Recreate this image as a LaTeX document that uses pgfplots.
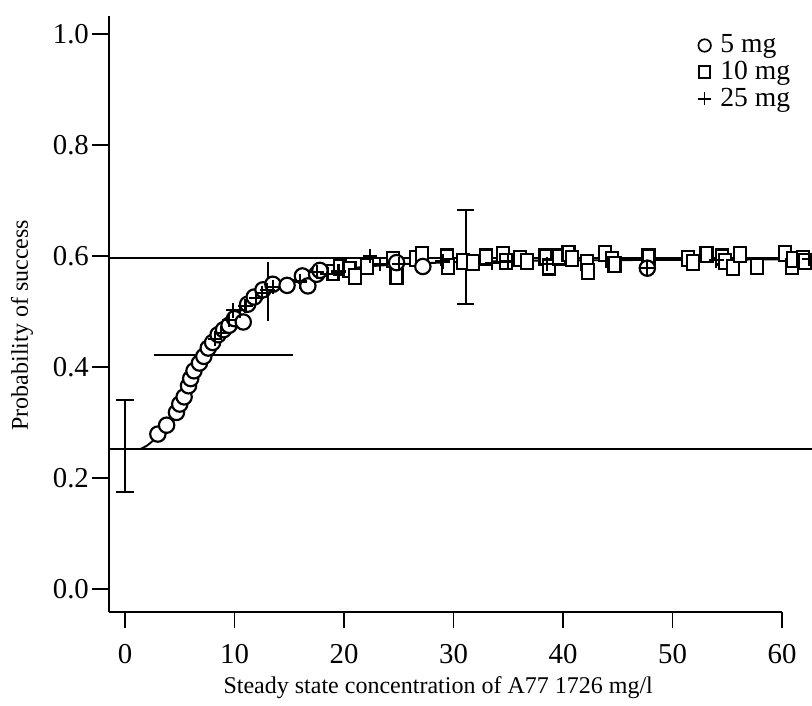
\documentclass[border=0pt]{standalone}
\usepackage{pgfplots}
\pgfplotsset{compat=1.18}
\usepackage{fontspec}
\setmainfont{Liberation Serif}
\begin{document}
\begin{tikzpicture}
\begin{axis}[
  scale only axis, width=280.4pt, height=248.3pt,
  xmin=-1.46, xmax=60, ymin=-0.041, ymax=1.033,
  axis x line*=bottom, axis y line*=left,
  every outer x axis line/.append style={-},
  every outer y axis line/.append style={-},
  axis line style={line width=0.8pt, black},
  clip=false,
  xtick={0,10,20,30,40,50,60},
  ytick={0,0.2,0.4,0.6,0.8,1.0},
  yticklabel style={/pgf/number format/fixed, /pgf/number format/fixed zerofill, /pgf/number format/precision=1, inner sep=1.2pt},
  xticklabel style={yshift=-3pt},
  /pgf/number format/assume math mode=true,
  tick align=outside, major tick length=7pt,
  tick style={line width=0.8pt, black},
  ticklabel style={font=\fontsize{12}{14}\selectfont},
  xlabel={Steady state concentration of A77 1726 mg/l},
  ylabel={Probability of success},
  label style={font=\fontsize{11}{13}\selectfont},
  every axis x label/.style={at={(axis cs:28.6,-0.178)}, anchor=center},
  every axis y label/.style={at={(axis cs:-9.4,0.475)}, rotate=90, anchor=center},
  legend style={draw=none, fill=none, at={(axis cs:52.3,1.004)}, anchor=north west,
    font=\fontsize{11.5}{12}\selectfont, inner sep=0pt, nodes={inner sep=1pt}, row sep=0pt},
  legend cell align=left,
]
\addlegendimage{only marks, mark=o, mark size=2.6pt, mark options={line width=0.7pt}}
\addlegendentry{~5 mg}
\addlegendimage{only marks, mark=square, mark size=2.3pt, mark options={line width=0.7pt, yscale=1.1}}
\addlegendentry{~10 mg}
\addlegendimage{only marks, mark=+, mark size=2.7pt, mark options={line width=0.7pt}}
\addlegendentry{~25 mg}
% horizontal reference lines
\addplot[line width=0.8pt, forget plot] coordinates {(-1.46,0.597) (62.74,0.597)};
\addplot[line width=0.8pt, forget plot] coordinates {(-1.46,0.252) (62.74,0.252)};
% fitted curve
\addplot[line width=0.8pt, forget plot] coordinates {
(1.4,0.252) (2.0,0.258) (2.5,0.266) (3.0,0.276) (3.5,0.287) (4.0,0.300) (4.5,0.314)
(5.0,0.331) (5.5,0.350) (6.0,0.372) (6.5,0.391) (7.0,0.409) (7.5,0.425) (8.0,0.442)
(8.5,0.456) (9.0,0.469) (9.5,0.480) (10.0,0.491) (11.0,0.510) (12.0,0.525) (13.0,0.537)
(14.0,0.547) (15.0,0.554) (16.0,0.560) (17.0,0.565) (18.0,0.569) (20.0,0.576) (22.0,0.581)
(25.0,0.585) (30.0,0.589) (35.0,0.591) (40.0,0.592) (50.0,0.593) (62.7,0.594)};
% error bars
\addplot[draw=none, mark=none, forget plot, error bars/.cd, y dir=both, y explicit,
  error bar style={line width=0.8pt}, error mark options={line width=0.8pt, mark size=3.7pt, rotate=90}]
  coordinates {(0,0.2575) +- (0,0.0825) (31.1,0.5985) +- (0,0.0845)};
\addplot[draw=none, mark=none, forget plot, error bars/.cd, x dir=both, x explicit,
  error bar style={line width=0.8pt}, error mark options={line width=0.8pt, mark size=6.7pt}]
  coordinates {(8.975,0.4216) +- (4.875,0)};
\addplot[line width=0.8pt, forget plot] coordinates {(13.05,0.483) (13.05,0.589)};
% 10 mg
\addplot[only marks, forget plot, mark=square*, mark size=2.5pt, mark options={fill=white, draw=black, line width=0.9pt, yscale=1.25}] coordinates {
(19.0,0.570) (19.6,0.580) (20.5,0.575) (21.0,0.563) (22.1,0.581) (24.5,0.593) (24.8,0.563)
(26.6,0.596) (27.1,0.602) (29.4,0.598) (29.5,0.581) (30.9,0.590) (31.8,0.588) (33.0,0.598)
(34.5,0.602) (34.8,0.590) (36.1,0.596) (36.7,0.590) (38.4,0.598) (38.7,0.580) (39.6,0.598)
(40.5,0.605) (40.8,0.596) (42.2,0.588) (42.3,0.572) (43.8,0.605) (44.5,0.593) (44.7,0.584)
(47.8,0.598) (51.4,0.596) (51.9,0.588) (53.1,0.602) (54.5,0.598) (54.8,0.590) (55.5,0.579)
(56.2,0.602) (57.7,0.581) (60.3,0.605) (60.9,0.581) (61.0,0.593) (61.9,0.596) (62.1,0.590)};
% 5 mg
\addplot[only marks, forget plot, mark=*, mark size=3.2pt, mark options={fill=white, draw=black, line width=0.9pt}] coordinates {
(3.0,0.279) (3.8,0.295) (4.7,0.318) (5.0,0.333) (5.4,0.346) (5.8,0.366) (6.0,0.379)
(6.3,0.393) (6.8,0.407) (7.2,0.419) (7.6,0.434) (8.0,0.444) (8.5,0.458) (9.0,0.467)
(9.5,0.475) (10.0,0.487) (10.8,0.481) (11.2,0.513) (11.8,0.526) (12.6,0.539) (13.5,0.549)
(14.8,0.547) (16.2,0.564) (16.7,0.546) (17.5,0.567) (17.8,0.574) (24.8,0.588) (27.2,0.581)
(47.7,0.578)};
% 25 mg
\addplot[only marks, forget plot, mark=+, mark size=3pt, mark options={draw=black, line width=0.9pt}] coordinates {
(8.2,0.451) (8.8,0.461) (9.5,0.485) (9.9,0.502) (10.5,0.502) (11.0,0.510) (12.0,0.524)
(12.5,0.533) (13.0,0.539) (13.5,0.544) (16.0,0.554) (17.5,0.571) (18.5,0.568) (19.5,0.572)
(22.4,0.600) (23.3,0.585) (25.0,0.585) (29.0,0.590) (33.5,0.588) (35.0,0.590) (38.5,0.585)
(47.7,0.578) (54.0,0.592) (62.5,0.595)};
\coordinate (bbl) at (axis cs:-11.416,-0.2108);
\coordinate (bbr) at (axis cs:62.74,1.0613);
\end{axis}
\pgfresetboundingbox
\path[use as bounding box] (bbl) rectangle (bbr);
\end{tikzpicture}
\end{document}
